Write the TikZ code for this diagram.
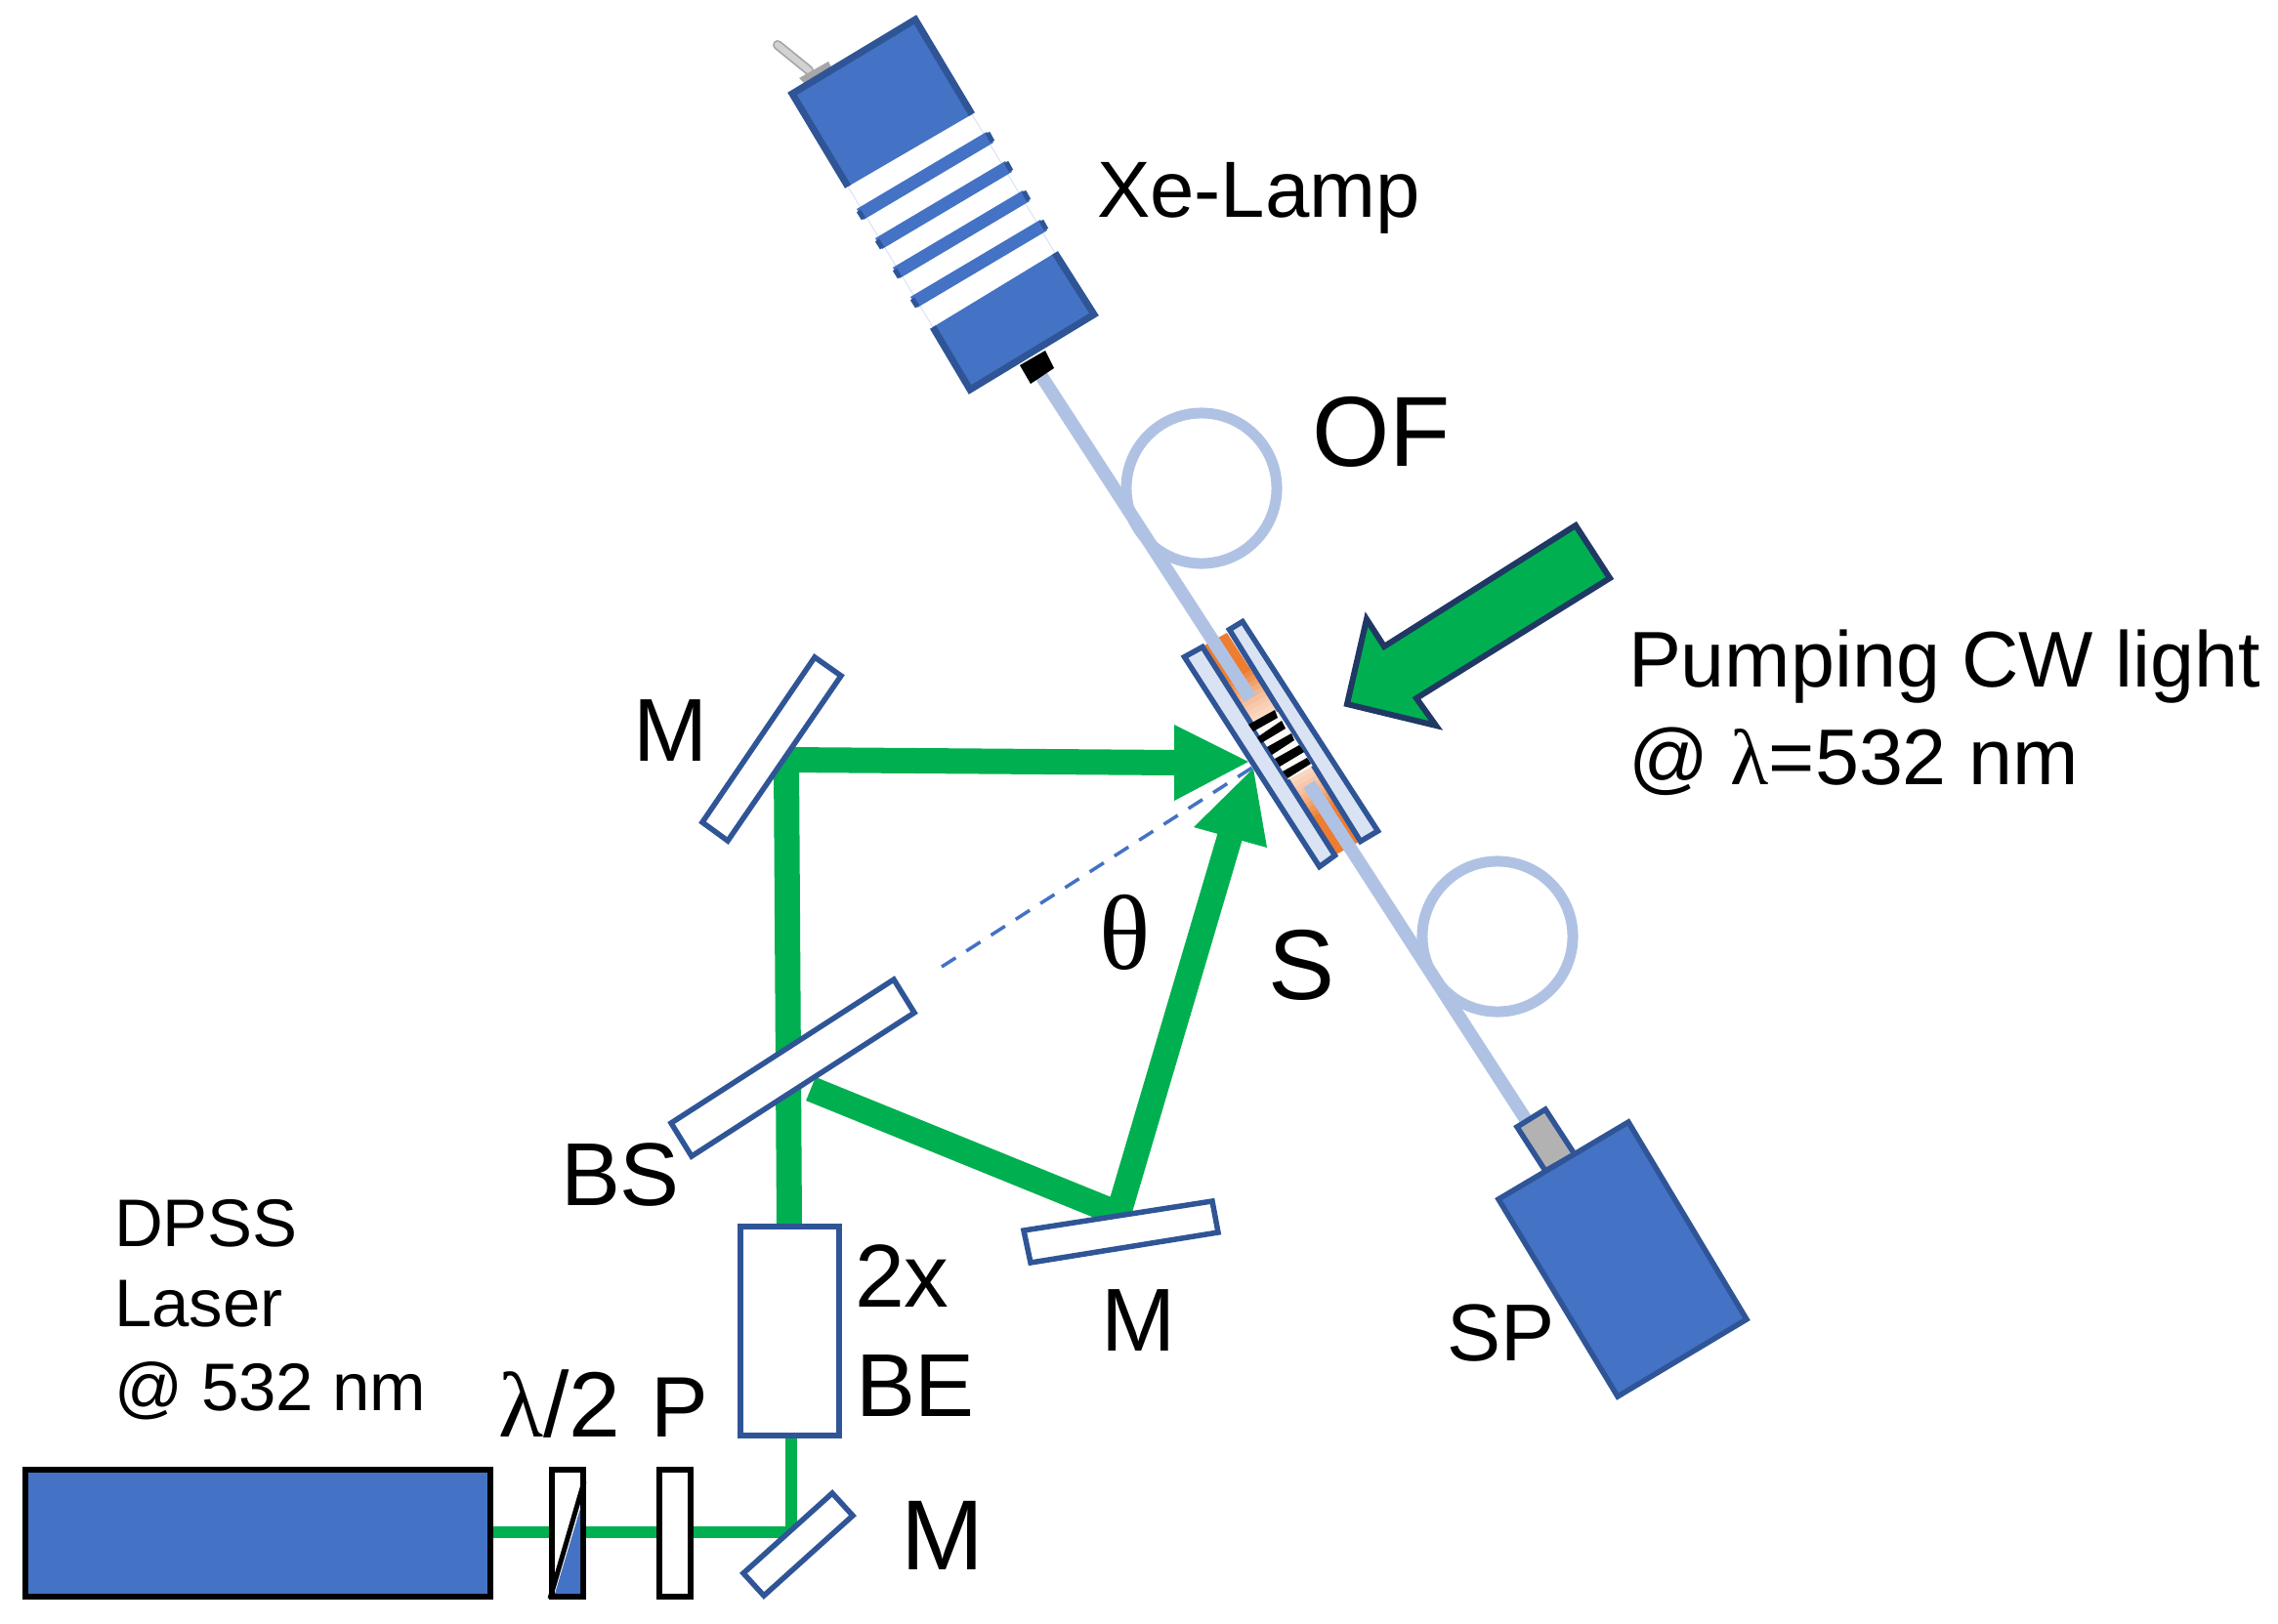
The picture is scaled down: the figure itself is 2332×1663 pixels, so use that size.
\documentclass[tikz,border=0pt]{standalone}
\usepackage{fontspec}
\setmainfont{Liberation Sans}
\newfontfamily\symfont{Liberation Serif}
\usetikzlibrary{calc}
\definecolor{bluefill}{HTML}{4472C4}
\definecolor{blueline}{HTML}{2F5597}
\definecolor{fibre}{HTML}{B0C2E4}
\definecolor{beam}{HTML}{00B050}
\definecolor{plate}{HTML}{DAE3F3}
\definecolor{orng}{HTML}{ED7D31}
\definecolor{peach}{HTML}{FBE0CF}
\definecolor{navy}{HTML}{203864}
\newcommand{\fs}[1]{\fontsize{#1}{#1}\selectfont}
\tikzset{
  body/.style={fill=bluefill,draw=blueline,line width=0.055cm,line join=miter},
  optic/.style={fill=white,draw=blueline,line width=0.055cm,line join=miter},
  blackoptic/.style={fill=white,draw=black,line width=0.058cm,line join=miter},
  fibreline/.style={draw=fibre,line width=0.135cm},
  loopline/.style={draw=fibre,line width=0.11cm},
  beamline/.style={draw=beam,line width=#1,line join=miter},
  lab/.style={anchor=base west,inner sep=0pt,outer sep=0pt,text=black},
  big/.style={lab,font=\fs{26}},
}
\begin{document}
\begin{tikzpicture}[x=0.01cm,y=-0.01cm]
\useasboundingbox (0,0) rectangle (2332,1663);
\fill[white] (0,0) rectangle (2332,1663);
% ---- named points
\coordinate (lampport) at (1066,385);
\coordinate (fibreA) at (1280,715);
\coordinate (fibreB) at (1340,803);
\coordinate (spport) at (1563,1148);
% ---- sample band
\coordinate (a1) at (1231,662); \coordinate (a2) at (1256,648);
\coordinate (b1) at (1368,875); \coordinate (b2) at (1393,861);
\foreach \t/\p in {0/100,0.16/100,0.18/88,0.20/76,0.22/64,0.24/52,0.26/42,0.28/32,0.30/24,0.32/16,0.34/10,0.36/4}{
  \pgfmathsetmacro{\u}{1-\t}
  \fill[orng!\p!peach] ($(a1)!\t!(b1)$)--($(a2)!\t!(b2)$)--($(a2)!\u!(b2)$)--($(a1)!\u!(b1)$)--cycle;
}
% ---- plates
\draw[optic,fill=plate] (1212.5,672.7)--(1231,662.5)--(1366.5,876)--(1350.7,887.5)--cycle;
\draw[optic,fill=plate] (1258.5,644.7)--(1272,636.5)--(1410.5,851)--(1392.7,861.5)--cycle;
% ---- grating
\fill[white!85!peach] ($(a1)!0.38!(b1)$)--($(a2)!0.38!(b2)$)--($(a2)!0.64!(b2)$)--($(a1)!0.64!(b1)$)--cycle;
\fill[black] (1278,742)--(1283,749)--(1308,735)--(1305,727)--cycle;
\fill[black] (1287,755)--(1291,761)--(1316,746)--(1312,738)--cycle;
\fill[black] (1297,765)--(1302,773)--(1325,758)--(1322,751)--cycle;
\fill[black] (1305,777)--(1310,785)--(1335,770)--(1330,763)--cycle;
\fill[black] (1313,790)--(1318,797)--(1342,782)--(1338,776)--cycle;
% ---- fibres on top
\draw[fibreline] (lampport)--(fibreA);
\draw[fibreline] (fibreB)--(spport);
\draw[loopline] (1230,500) circle[radius=0.77cm];
\draw[loopline] (1533,959) circle[radius=0.77cm];
% ---- Xe lamp
\draw[gray!70,line width=0.1cm,line cap=round] (796,46)--(828,72);
\draw[gray!35,line width=0.065cm,line cap=round] (796,46)--(828,72);
\fill[gray!70] (818,80)--(848,63)--(851,69)--(823,85)--cycle;
\fill[black] (1044,374)--(1070,359)--(1079,377)--(1055,393)--cycle;
\draw[plate,line width=0.01cm] (868,191)--(955,335) (995,117)--(1080,259);
\fill[bluefill] (868,191)--(811,96)--(937,20)--(995,117)--cycle;
\draw[blueline,line width=0.07cm,line join=miter] (868,191)--(811,96)--(937,20)--(995,117);
\fill[bluefill] (955,335)--(1080,259)--(1120,322)--(993,399)--cycle;
\draw[blueline,line width=0.07cm,line join=miter] (955,335)--(993,399)--(1120,322)--(1080,259);
\foreach \pa/\pb/\pc/\pd in {877/214/884/225,896/244/903/255,914/274/921/285,932/304/939/315}{
  \pgfmathsetmacro{\qa}{\pa+133}\pgfmathsetmacro{\qb}{\pb-79}
  \pgfmathsetmacro{\qc}{\pc+133}\pgfmathsetmacro{\qd}{\pd-79}
  \fill[bluefill] (\pa,\pb)--(\pc,\pd)--(\qc,\qd)--(\qa,\qb)--cycle;
  \draw[blueline,line width=0.05cm] (\pa+2,\pb+2)--(\pc,\pd-1);
  \draw[blueline,line width=0.05cm] (\qa+1,\qb+1)--(\qc-1,\qd-1);
}
% ---- beam points
\coordinate (bsHit) at (830,1115);
\coordinate (m2Hit) at (1145,1243);
\coordinate (m1Hit) at (805,778);
\coordinate (beTop) at (808,1256);
\coordinate (tipA) at (1278,780);
\coordinate (tipB) at (1283,787);
\coordinate (baseA) at (1204,781);
\coordinate (baseB) at (1259,857);
\coordinate (m3Hit) at (810,1569);
\coordinate (beBot) at (810,1470);
\coordinate (laserEnd) at (502,1569);
\draw[beamline=0.12cm] (laserEnd)--(m3Hit)--(beBot);
\draw[optic] (761,1611)--(852,1529)--(873,1552)--(782,1634)--cycle;
\draw[beamline=0.26cm] (beTop)--(m1Hit)--(baseA);
\draw[beamline=0.26cm] (bsHit)--(m2Hit)--(baseB);
% mirrors
\draw[optic] (834,673)--(861,692)--(745,861)--(719,842)--cycle;
\draw[optic] (915,1003)--(936,1037)--(708,1184)--(687,1150)--cycle;
\draw[optic] (1241,1230)--(1247,1262)--(1055,1293)--(1048,1260)--cycle;
\fill[beam] (tipA)--(1202,742)--(1202,820)--cycle;
\fill[beam] (tipB)--(1222,847)--(1297,868)--cycle;
\draw[bluefill,line width=0.035cm,dash pattern=on 0.17cm off 0.13cm] (964,990)--(1282,786);
% pump arrow
\draw[fill=beam,draw=navy,line width=0.06cm,line join=miter] (1379,721)--(1399,634)--(1417,662)--(1613,538)--(1648,592)--(1450,715)--(1470,743)--cycle;
% laser and plates
\draw[blackoptic,fill=bluefill] (26,1505) rectangle (502,1635);
\draw[blackoptic] (565,1505) rectangle (597,1635);
\fill[bluefill] (568,1632)--(594,1632)--(594,1545)--cycle;
\draw[black,line width=0.05cm] (563,1637)--(598,1517);
\draw[blackoptic] (675,1505) rectangle (707,1635);
\draw[optic] (758,1256) rectangle (859,1470);
% SP
\draw[optic,fill=gray!60] (1553,1154)--(1582,1136)--(1612,1182)--(1582,1199)--cycle;
\draw[body] (1534,1228)--(1667,1149)--(1788,1351)--(1656,1430)--cycle;
% ---- text
\node[lab,font=\fs{23.2}] (tLamp) at (1123,222) {Xe-Lamp};
\node[lab,font=\fs{29}] (tOF) at (1343,477) {OF};
\node[lab,font=\fs{23}] (tPump) at (1667,703) {Pumping CW light};
\node[lab,font=\fs{23}] (tAt) at (1667,803) {@ {\symfont λ}=532 nm};
\node[big] (tM1) at (648,779) {M};
\node[lab,font=\symfont\fs{31}] (tTheta) at (1125,992) {θ};
\node[lab,font=\fs{29}] (tS) at (1298,1023) {S};
\node[big] (tBS) at (574,1234) {BS};
\node[big] (t2x) at (875,1338) {2x};
\node[big] (tBE) at (876,1450) {BE};
\node[big] (tM2) at (1127,1383) {M};
\node[lab,font=\fs{29}] (tM3) at (922,1607) {M};
\node[lab,font=\fs{25}] (tP) at (666,1471) {P};
\node[lab,font=\fs{27}] (tHalf) at (510,1471) {{\symfont λ}/2};
\node[lab,font=\fs{23.5}] (tSP) at (1481,1393) {SP};
\node[lab,font=\fs{19.6}] (tD1) at (117,1276) {DPSS};
\node[lab,font=\fs{19.6}] (tD2) at (117,1358) {Laser};
\node[lab,font=\fs{19.6}] (tD3) at (117,1444) {@ 532 nm};
\end{tikzpicture}
\end{document}
